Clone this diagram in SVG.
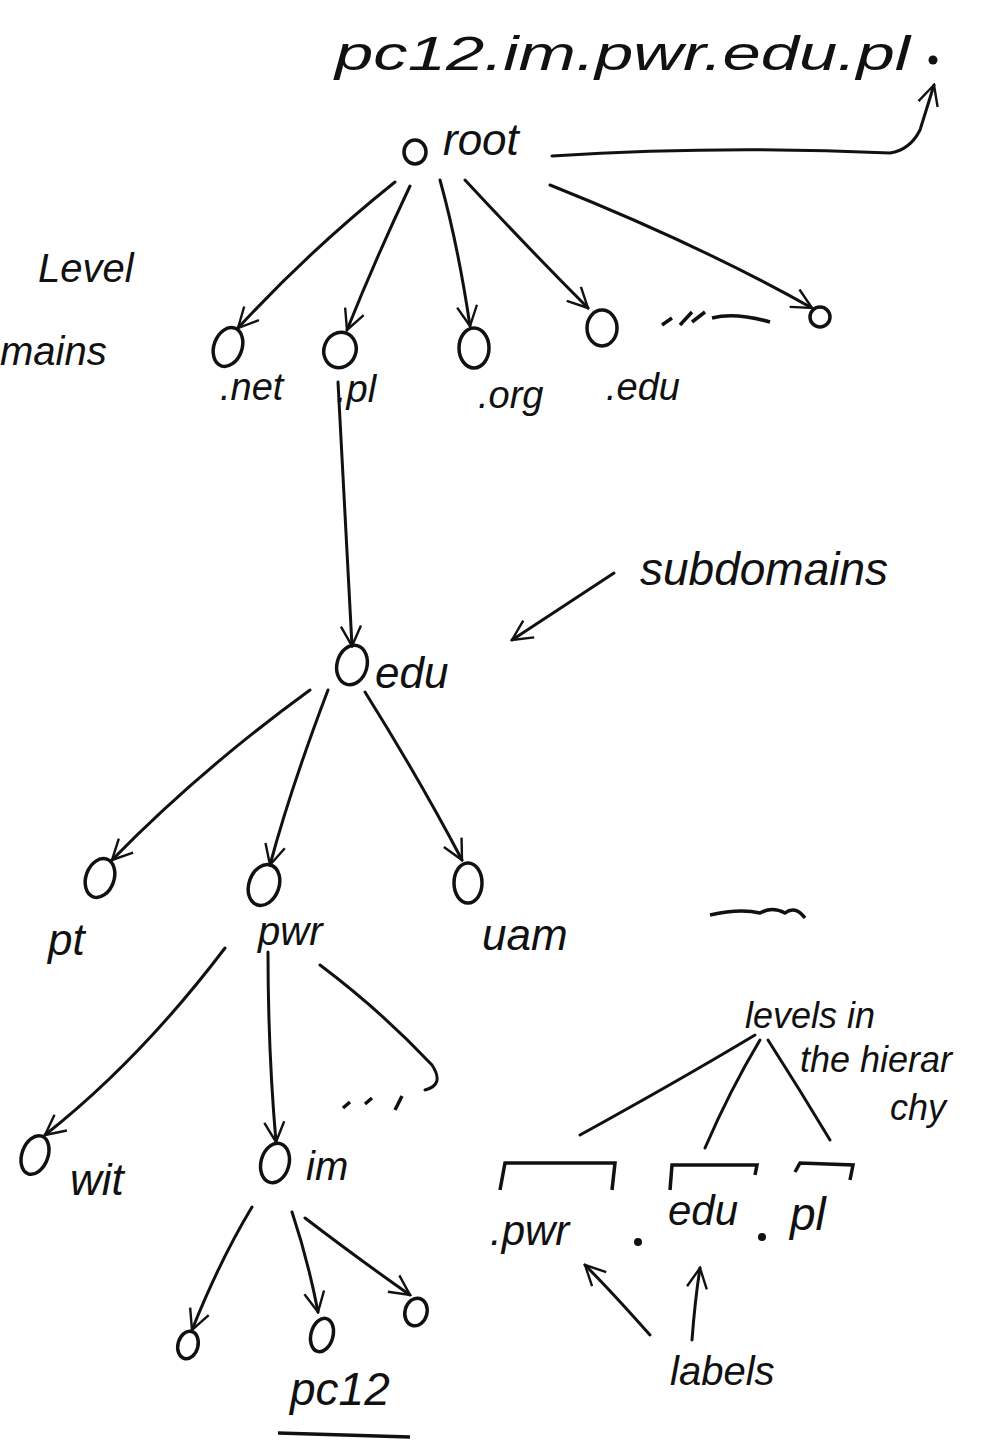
<svg xmlns="http://www.w3.org/2000/svg" width="1005" height="1446" viewBox="0 0 1005 1446">
<style>
.t{font-family:"Liberation Sans","DejaVu Sans",sans-serif;fill:#111;font-style:italic}
.n{fill:none;stroke:#111;stroke-width:3.5}
.c path,.c line,.c polyline{fill:none;stroke:#111;stroke-width:3;stroke-linecap:round;stroke-linejoin:round}
</style>
<defs>
<marker id="ah2" viewBox="0 0 12 12" refX="11" refY="6" markerWidth="24" markerHeight="24" markerUnits="userSpaceOnUse" orient="auto">
<path d="M1,1 L11,6 L1,11" fill="none" stroke="#111" stroke-width="1.2"/>
</marker>
</defs>
<rect width="1005" height="1446" fill="#fff"/>

<g id="fqdn"><text class="t" x="335" y="70" font-size="48" textLength="575" lengthAdjust="spacingAndGlyphs">pc12.im.pwr.edu.pl</text><circle cx="933" cy="60" r="4.5" fill="#111"/></g>

<g id="root"><ellipse class="n" cx="415" cy="152" rx="11" ry="12"/><text class="t" x="443" y="155" font-size="44">root</text></g>

<g id="tld-label"><text class="t" x="38" y="282" font-size="40">Level</text><text class="t" x="0" y="365" font-size="40">mains</text></g>

<g id="net"><ellipse class="n" cx="228" cy="347" rx="14" ry="20" transform="rotate(20 228 347)"/><text class="t" x="220" y="400" font-size="38">.net</text></g>
<g id="pl"><ellipse class="n" cx="340" cy="350" rx="16" ry="18" transform="rotate(20 340 350)"/><text class="t" x="336" y="402" font-size="38">.pl</text></g>
<g id="org"><ellipse class="n" cx="474" cy="348" rx="15" ry="20"/><text class="t" x="478" y="408" font-size="38">.org</text></g>
<g id="edu-tld"><ellipse class="n" cx="602" cy="328" rx="15" ry="18"/><text class="t" x="606" y="400" font-size="38">.edu</text></g>
<g id="other-tld"><ellipse class="n" cx="820" cy="317" rx="10" ry="10"/></g>
<g id="tld-dots"><path class="n" d="M662,325 L672,318 M680,325 L692,312 M692,322 L705,312 M712,318 Q735,312 770,322" stroke-width="2.5"/></g>

<g id="subdomains-label"><text class="t" x="640" y="585" font-size="46">subdomains</text></g>

<g id="edu"><ellipse class="n" cx="352" cy="665" rx="15" ry="20" transform="rotate(15 352 665)"/><text class="t" x="375" y="688" font-size="44">edu</text></g>

<g id="pt"><ellipse class="n" cx="100" cy="878" rx="14" ry="20" transform="rotate(20 100 878)"/><text class="t" x="48" y="955" font-size="44">pt</text></g>
<g id="pwr"><ellipse class="n" cx="264" cy="885" rx="15" ry="21" transform="rotate(20 264 885)"/><text class="t" x="258" y="945" font-size="40">pwr</text></g>
<g id="uam"><ellipse class="n" cx="468" cy="883" rx="14" ry="20"/><text class="t" x="482" y="950" font-size="44">uam</text></g>
<g id="edu-dots"><path class="n" d="M710,915 Q740,908 760,913 Q772,906 785,913 Q795,905 805,918" stroke-width="2.5"/></g>

<g id="wit"><ellipse class="n" cx="35" cy="1155" rx="13" ry="20" transform="rotate(20 35 1155)"/><text class="t" x="70" y="1195" font-size="44">wit</text></g>
<g id="im"><ellipse class="n" cx="275" cy="1163" rx="14" ry="20" transform="rotate(15 275 1163)"/><text class="t" x="306" y="1180" font-size="40">im</text></g>
<g id="pwr-dots"><path class="n" d="M343,1108 L350,1102 M365,1104 L372,1098 M395,1110 L402,1096" stroke-width="2.5"/></g>

<g id="host1"><ellipse class="n" cx="188" cy="1345" rx="10" ry="14" transform="rotate(15 188 1345)"/></g>
<g id="pc12"><ellipse class="n" cx="322" cy="1335" rx="11" ry="17" transform="rotate(15 322 1335)"/><text class="t" x="290" y="1405" font-size="46">pc12</text><path class="n" d="M278,1433 L410,1437" stroke-width="3.5"/></g>
<g id="host3"><ellipse class="n" cx="416" cy="1312" rx="11" ry="14" transform="rotate(15 416 1312)"/></g>

<g id="levels-label"><text class="t" x="745" y="1028" font-size="36">levels in</text><text class="t" x="800" y="1072" font-size="36">the hierar</text><text class="t" x="890" y="1120" font-size="36">chy</text></g>

<g id="labels-diagram">
<path class="n" d="M500,1190 L505,1163 L615,1163 L612,1190 M670,1190 L672,1165 L757,1165 L755,1175 M795,1172 L800,1163 L853,1165 L850,1180" stroke-width="3"/>
<text class="t" x="490" y="1245" font-size="42">.pwr</text>
<circle cx="638" cy="1242" r="4" fill="#111"/>
<text class="t" x="668" y="1225" font-size="42">edu</text>
<circle cx="762" cy="1237" r="4" fill="#111"/>
<text class="t" x="790" y="1230" font-size="46">pl</text>
<text class="t" x="670" y="1385" font-size="40">labels</text>
</g>

<g id="connectors" class="c">
<path d="M552,156 Q720,145 890,153 Q910,150 920,130 L934,85" marker-end="url(#ah2)"/>
<path d="M395,182 Q310,250 238,328" marker-end="url(#ah2)"/>
<path d="M410,186 Q375,260 347,330" marker-end="url(#ah2)"/>
<path d="M440,180 Q458,245 470,326" marker-end="url(#ah2)"/>
<path d="M465,180 Q530,250 588,308" marker-end="url(#ah2)"/>
<path d="M550,185 Q700,245 812,308" marker-end="url(#ah2)"/>
<path d="M338,382 Q345,510 352,646" marker-end="url(#ah2)"/>
<path d="M614,573 L512,640" marker-end="url(#ah2)"/>
<path d="M310,690 Q200,770 112,860" marker-end="url(#ah2)"/>
<path d="M328,690 Q290,790 270,865" marker-end="url(#ah2)"/>
<path d="M365,692 Q420,780 462,860" marker-end="url(#ah2)"/>
<path d="M225,948 Q140,1060 45,1135" marker-end="url(#ah2)"/>
<path d="M268,952 Q268,1050 276,1142" marker-end="url(#ah2)"/>
<path d="M320,965 Q380,1010 432,1065 Q445,1085 425,1090"/>
<path d="M252,1207 Q220,1260 192,1330" marker-end="url(#ah2)"/>
<path d="M292,1212 Q308,1260 318,1312" marker-end="url(#ah2)"/>
<path d="M305,1218 Q360,1260 410,1295" marker-end="url(#ah2)"/>
<path d="M755,1035 Q680,1080 580,1135"/>
<path d="M760,1040 Q730,1090 705,1148"/>
<path d="M768,1040 Q800,1090 830,1140"/>
<path d="M650,1335 Q610,1290 585,1265" marker-end="url(#ah2)"/>
<path d="M692,1340 Q695,1300 700,1268" marker-end="url(#ah2)"/>
</g>
</svg>
